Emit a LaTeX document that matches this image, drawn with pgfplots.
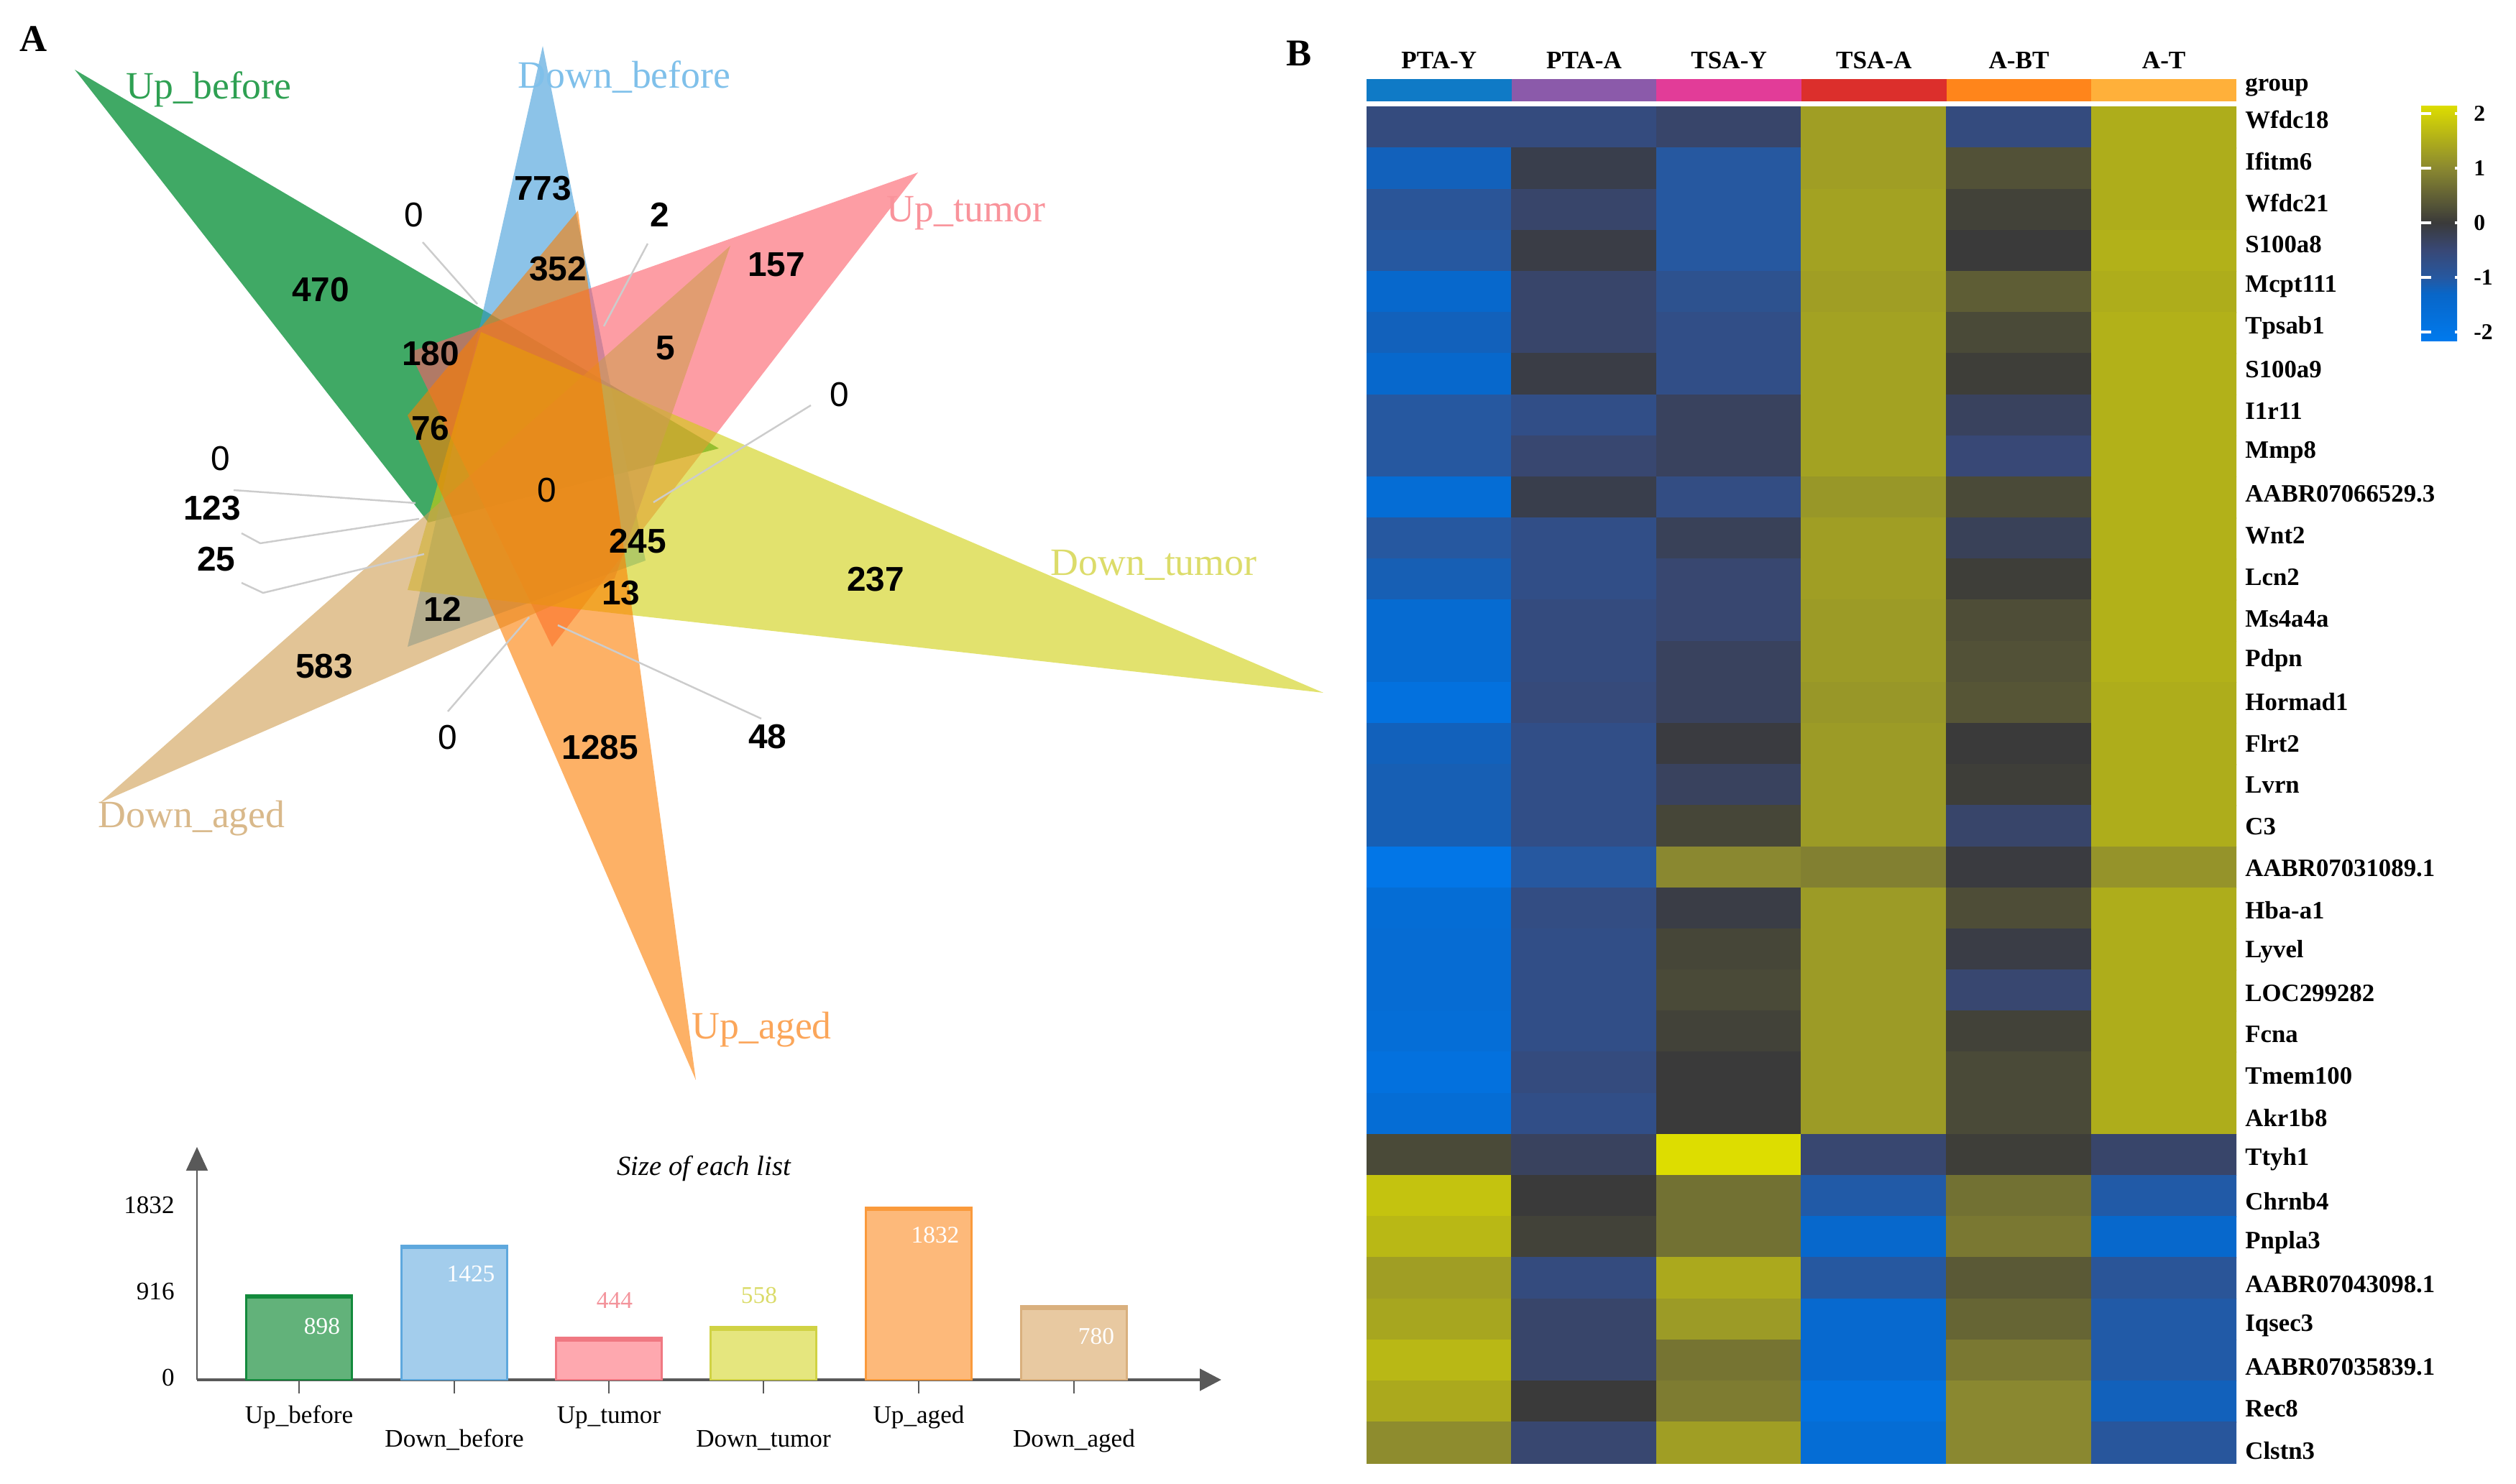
\documentclass[border=0pt]{standalone}
\usepackage{fontspec}
\setmainfont{Liberation Serif}
\newfontfamily\arialf{Liberation Sans}
\usepackage{pgfplots}
\pgfplotsset{compat=1.18}
\usetikzlibrary{arrows.meta}

% venn sets: base colours, drawn translucent
\definecolor{vgreen}{RGB}{0,140,50}
\definecolor{vblue}{RGB}{63,155,217}
\definecolor{vpink}{RGB}{252,92,103}
\definecolor{vyellow}{RGB}{207,207,13}
\definecolor{vtan}{RGB}{207,157,80}
\definecolor{vorange}{RGB}{252,125,0}
% set name colours
\definecolor{tgreen}{RGB}{46,160,82}
\definecolor{tblue}{RGB}{127,192,234}
\definecolor{tpink}{RGB}{249,147,155}
\definecolor{tyellow}{RGB}{220,220,106}
\definecolor{torange}{RGB}{251,166,90}
\definecolor{ttan}{RGB}{217,185,139}
% bars
\definecolor{bgreen}{RGB}{98,178,122}  \definecolor{bgreenD}{RGB}{19,138,60}
\definecolor{bblue}{RGB}{163,205,236}  \definecolor{bblueD}{RGB}{94,168,221}
\definecolor{bpink}{RGB}{254,168,175}  \definecolor{bpinkD}{RGB}{240,120,130}
\definecolor{byell}{RGB}{229,230,126}  \definecolor{byellD}{RGB}{208,210,68}
\definecolor{boran}{RGB}{253,185,122}  \definecolor{boranD}{RGB}{250,154,60}
\definecolor{btan}{RGB}{232,201,161}   \definecolor{btanD}{RGB}{217,176,126}
\definecolor{axgray}{RGB}{89,89,89}
% group bar
\definecolor{gA}{RGB}{15,122,198}
\definecolor{gB}{RGB}{139,90,170}
\definecolor{gC}{RGB}{226,60,152}
\definecolor{gD}{RGB}{220,47,44}
\definecolor{gE}{RGB}{255,133,27}
\definecolor{gF}{RGB}{255,176,58}

\newcommand\vset{\fontsize{15.3}{18}\selectfont}
\newcommand\vnum{\arialf\bfseries\fontsize{13.6}{16}\selectfont}
\newcommand\vzero{\arialf\fontsize{13.6}{16}\selectfont}

\begin{document}
\begin{tikzpicture}
\path[use as bounding box] (0,0) rectangle (35cm,20.65cm);

% ---------- panel A, venn (canvas pixel units)
\begin{axis}[at={(0,0)}, anchor=south west, width=35cm, height=20.65cm,
  scale only axis, xmin=0, xmax=3500, ymin=0, ymax=2065, y dir=reverse,
  hide axis, clip=false]
\addplot[fill=vgreen, fill opacity=0.75, draw=none] coordinates {(104,97) (1000,624) (596,727)} -- cycle;
\addplot[fill=vblue, fill opacity=0.6, draw=none] coordinates {(755,64) (898,780) (567,900)} -- cycle;
\addplot[fill=vpink, fill opacity=0.6, draw=none] coordinates {(1277,240) (570,490) (768,900)} -- cycle;
\addplot[fill=vyellow, fill opacity=0.6, draw=none] coordinates {(1841,964) (669,462) (567,821)} -- cycle;
\addplot[fill=vtan, fill opacity=0.6, draw=none] coordinates {(139,1117) (1016,342) (855,805)} -- cycle;
\addplot[fill=vorange, fill opacity=0.6, draw=none] coordinates {(968,1503) (804,293) (567,578)} -- cycle;

% leader lines
\addplot[draw=gray!40, line width=0.7pt] coordinates {(588,337) (664,423)};
\addplot[draw=gray!40, line width=0.7pt] coordinates {(901,339) (840,454)};
\addplot[draw=gray!40, line width=0.7pt] coordinates {(1128,564) (909,699)};
\addplot[draw=gray!40, line width=0.7pt] coordinates {(325,682) (578,700)};
\addplot[draw=gray!40, line width=0.7pt] coordinates {(336,742) (362,756) (583,722)};
\addplot[draw=gray!40, line width=0.7pt] coordinates {(336,811) (366,825) (590,771)};
\addplot[draw=gray!40, line width=0.7pt] coordinates {(623,990) (736,859)};
\addplot[draw=gray!40, line width=0.7pt] coordinates {(1059,1000) (776,870)};

\node[font=\bfseries\fontsize{15}{18}\selectfont] at (axis cs:47,54) {A};
\node[font=\bfseries\fontsize{15}{18}\selectfont] at (axis cs:1807,74) {B};

\node[anchor=west, text=tgreen, font=\vset, inner sep=0pt] at (axis cs:175,124) {Up\_before};
\node[anchor=west, text=tblue, font=\vset, inner sep=0pt] at (axis cs:720,107) {Down\_before};
\node[anchor=west, text=tpink, font=\vset, inner sep=0pt] at (axis cs:1233,297) {Up\_tumor};
\node[anchor=west, text=tyellow, font=\vset, inner sep=0pt] at (axis cs:1461,786) {Down\_tumor};
\node[anchor=west, text=torange, font=\vset, inner sep=0pt] at (axis cs:962,1433) {Up\_aged};
\node[anchor=west, text=ttan, font=\vset, inner sep=0pt] at (axis cs:136,1139) {Down\_aged};

\node[font=\vnum] at (axis cs:446,403) {470};
\node[font=\vnum] at (axis cs:755,262) {773};
\node[font=\vzero] at (axis cs:576,299) {0};
\node[font=\vnum] at (axis cs:918,299) {2};
\node[font=\vnum] at (axis cs:776,374) {352};
\node[font=\vnum] at (axis cs:1080,368) {157};
\node[font=\vnum] at (axis cs:599,492) {180};
\node[font=\vnum] at (axis cs:926,484) {5};
\node[font=\vnum] at (axis cs:599,596) {76};
\node[font=\vzero] at (axis cs:1168,549) {0};
\node[font=\vzero] at (axis cs:761,682) {0};
\node[font=\vzero] at (axis cs:307,638) {0};
\node[font=\vnum] at (axis cs:295,707) {123};
\node[font=\vnum] at (axis cs:301,778) {25};
\node[font=\vnum] at (axis cs:887,753) {245};
\node[font=\vnum] at (axis cs:864,825) {13};
\node[font=\vnum] at (axis cs:1218,806) {237};
\node[font=\vnum] at (axis cs:616,848) {12};
\node[font=\vnum] at (axis cs:451,927) {583};
\node[font=\vzero] at (axis cs:623,1026) {0};
\node[font=\vnum] at (axis cs:835,1040) {1285};
\node[font=\vnum] at (axis cs:1068,1025) {48};
\end{axis}

% ---------- panel A, size of each list
\begin{axis}[at={(2.74cm,1.45cm)}, anchor=south west, width=14.25cm, height=3.24cm,
  scale only axis, xmin=274, xmax=1699, ymin=0, ymax=2473, clip=false,
  axis lines=left,
  x axis line style={draw=axgray, line width=1.4pt, -{Triangle[length=0.3cm,width=0.3cm]}},
  y axis line style={draw=axgray, line width=0.6pt, -{Triangle[length=0.33cm,width=0.3cm]}},
  tick align=outside, major tick length=0.19cm,
  xtick={416,847,1278}, xticklabels={Up\_before,Up\_tumor,Up\_aged},
  extra x ticks={632,1062,1494}, extra x tick labels={Down\_before,Down\_tumor,Down\_aged},
  extra x tick style={xticklabel style={yshift=-0.33cm}},
  xtick style={draw=axgray, line width=0.5pt},
  ytick={0,916,1832}, yticklabels={0,916,1832}, ytick style={draw=none},
  ticklabel style={font=\fontsize{10}{12}\selectfont},
  typeset ticklabels with strut]
\addplot[ybar, bar width=147, bar shift=0pt, fill=bgreen, draw=bgreenD, line width=0.8pt] coordinates {(416,898)};
\addplot[ybar, bar width=147, bar shift=0pt, fill=bblue, draw=bblueD, line width=0.8pt] coordinates {(632,1425)};
\addplot[ybar, bar width=147, bar shift=0pt, fill=bpink, draw=bpinkD, line width=0.8pt] coordinates {(847,444)};
\addplot[ybar, bar width=147, bar shift=0pt, fill=byell, draw=byellD, line width=0.8pt] coordinates {(1062,558)};
\addplot[ybar, bar width=147, bar shift=0pt, fill=boran, draw=boranD, line width=0.8pt] coordinates {(1278,1832)};
\addplot[ybar, bar width=147, bar shift=0pt, fill=btan, draw=btanD, line width=0.8pt] coordinates {(1494,780)};
\addplot[draw=bgreenD, line width=1.6pt] coordinates {(342.5,880) (489.5,880)};
\addplot[draw=bblueD, line width=1.6pt] coordinates {(558.5,1407) (705.5,1407)};
\addplot[draw=bpinkD, line width=1.6pt] coordinates {(773.5,426) (920.5,426)};
\addplot[draw=byellD, line width=1.6pt] coordinates {(988.5,540) (1135.5,540)};
\addplot[draw=boranD, line width=1.6pt] coordinates {(1204.5,1814) (1351.5,1814)};
\addplot[draw=btanD, line width=1.6pt] coordinates {(1420.5,762) (1567.5,762)};
\node[font=\itshape\fontsize{11}{13}\selectfont] at (axis cs:979,2244) {Size of each list};
\node[text=white, font=\fontsize{9.5}{11}\selectfont] at (axis cs:448,565) {898};
\node[text=white, font=\fontsize{9.5}{11}\selectfont] at (axis cs:655,1122) {1425};
\node[text=bpinkD!80, font=\fontsize{9.5}{11}\selectfont] at (axis cs:855,840) {444};
\node[text=byellD!80, font=\fontsize{9.5}{11}\selectfont] at (axis cs:1056,893) {558};
\node[text=white, font=\fontsize{9.5}{11}\selectfont] at (axis cs:1301,1534) {1832};
\node[text=white, font=\fontsize{9.5}{11}\selectfont] at (axis cs:1525,458) {780};
\end{axis}

% ---------- panel B, heatmap
\begin{axis}[at={(19.01cm,0.29cm)}, anchor=south west, width=12.10cm, height=19.26cm,
  scale only axis, xmin=-0.5, xmax=5.5, ymin=-1.182, ymax=32.5, y dir=reverse,
  enlargelimits=false, axis line style={draw=none}, major tick length=0pt,
  xtick={0,...,5}, xticklabels={PTA-Y,PTA-A,TSA-Y,TSA-A,A-BT,A-T}, xticklabel pos=upper,
  xticklabel style={font=\bfseries\fontsize{10}{12}\selectfont, yshift=0.02cm},
  % labels sit on a slightly wider pitch than the rows, as in the source figure
  ytick={-0.185,0.827,1.838,2.850,3.862,4.874,5.885,6.897,7.909,8.920,9.932,10.944,
    11.955,12.967,13.979,14.991,16.002,17.014,18.026,19.037,20.049,21.061,22.072,
    23.084,24.096,25.108,26.119,27.131,28.143,29.154,30.166,31.178,32.189},
  yticklabels={Wfdc18,Ifitm6,Wfdc21,S100a8,Mcpt111,Tpsab1,S100a9,I1r11,Mmp8,AABR07066529.3,
    Wnt2,Lcn2,Ms4a4a,Pdpn,Hormad1,Flrt2,Lvrn,C3,AABR07031089.1,Hba-a1,Lyvel,LOC299282,
    Fcna,Tmem100,Akr1b8,Ttyh1,Chrnb4,Pnpla3,AABR07043098.1,Iqsec3,AABR07035839.1,Rec8,Clstn3},
  extra y ticks={-0.99}, extra y tick labels={group},
  yticklabel pos=upper,
  yticklabel style={font=\bfseries\fontsize{9.9}{11}\selectfont},
  colormap={hm}{rgb255(0pt)=(0,122,238); rgb255(87pt)=(8,102,200); rgb255(117pt)=(38,88,160);
    rgb255(167pt)=(56,72,118); rgb255(217pt)=(58,58,58); rgb255(317pt)=(138,136,48);
    rgb255(433pt)=(222,222,0)},
  point meta min=-2.17, point meta max=2.16,
  colorbar,
  colorbar style={at={(parent axis.north east)}, anchor=north west,
    xshift=2.27cm, yshift=-0.36cm, width=0.61cm, height=3.29cm,
    ytick={-2,-1,0,1,2}, yticklabels={-2,-1,0,1,2},
    yticklabel style={font=\bfseries\fontsize{9}{11}\selectfont},
    axis line style={draw=none}, tick align=inside, ytick pos=both,
    major tick length=0.14cm, ytick style={draw=white, line width=1.2pt}}]
\addplot[fill=gA, draw=none] coordinates {(-0.5,-1.182) (0.5,-1.182) (0.5,-0.64) (-0.5,-0.64)} -- cycle;
\addplot[fill=gB, draw=none] coordinates {(0.5,-1.182) (1.5,-1.182) (1.5,-0.64) (0.5,-0.64)} -- cycle;
\addplot[fill=gC, draw=none] coordinates {(1.5,-1.182) (2.5,-1.182) (2.5,-0.64) (1.5,-0.64)} -- cycle;
\addplot[fill=gD, draw=none] coordinates {(2.5,-1.182) (3.5,-1.182) (3.5,-0.64) (2.5,-0.64)} -- cycle;
\addplot[fill=gE, draw=none] coordinates {(3.5,-1.182) (4.5,-1.182) (4.5,-0.64) (3.5,-0.64)} -- cycle;
\addplot[fill=gF, draw=none] coordinates {(4.5,-1.182) (5.5,-1.182) (5.5,-0.64) (4.5,-0.64)} -- cycle;
\addplot[matrix plot, mesh/cols=6, point meta=explicit] table[meta=v, row sep=\\] {
x y v\\
0 0 -0.6\\ 1 0 -0.6\\ 2 0 -0.4\\ 3 0 1.3\\ 4 0 -0.6\\ 5 0 1.5\\
0 1 -1.2\\ 1 1 -0.15\\ 2 1 -1.0\\ 3 1 1.3\\ 4 1 0.3\\ 5 1 1.5\\
0 2 -0.9\\ 1 2 -0.4\\ 2 2 -1.0\\ 3 2 1.35\\ 4 2 0.1\\ 5 2 1.5\\
0 3 -1.0\\ 1 3 -0.1\\ 2 3 -1.0\\ 3 3 1.35\\ 4 3 0.0\\ 5 3 1.55\\
0 4 -1.4\\ 1 4 -0.4\\ 2 4 -0.8\\ 3 4 1.3\\ 4 4 0.45\\ 5 4 1.5\\
0 5 -1.2\\ 1 5 -0.4\\ 2 5 -0.7\\ 3 5 1.35\\ 4 5 0.2\\ 5 5 1.55\\
0 6 -1.4\\ 1 6 -0.1\\ 2 6 -0.7\\ 3 6 1.35\\ 4 6 0.05\\ 5 6 1.55\\
0 7 -1.0\\ 1 7 -0.7\\ 2 7 -0.3\\ 3 7 1.35\\ 4 7 -0.3\\ 5 7 1.55\\
0 8 -1.0\\ 1 8 -0.45\\ 2 8 -0.3\\ 3 8 1.35\\ 4 8 -0.5\\ 5 8 1.55\\
0 9 -1.6\\ 1 9 -0.15\\ 2 9 -0.65\\ 3 9 1.2\\ 4 9 0.2\\ 5 9 1.55\\
0 10 -1.0\\ 1 10 -0.7\\ 2 10 -0.25\\ 3 10 1.3\\ 4 10 -0.25\\ 5 10 1.55\\
0 11 -1.15\\ 1 11 -0.7\\ 2 11 -0.45\\ 3 11 1.3\\ 4 11 0.05\\ 5 11 1.55\\
0 12 -1.5\\ 1 12 -0.6\\ 2 12 -0.45\\ 3 12 1.25\\ 4 12 0.25\\ 5 12 1.55\\
0 13 -1.5\\ 1 13 -0.6\\ 2 13 -0.3\\ 3 13 1.25\\ 4 13 0.3\\ 5 13 1.55\\
0 14 -1.8\\ 1 14 -0.55\\ 2 14 -0.3\\ 3 14 1.2\\ 4 14 0.35\\ 5 14 1.5\\
0 15 -1.2\\ 1 15 -0.7\\ 2 15 -0.05\\ 3 15 1.25\\ 4 15 0.0\\ 5 15 1.5\\
0 16 -1.15\\ 1 16 -0.7\\ 2 16 -0.3\\ 3 16 1.25\\ 4 16 0.05\\ 5 16 1.5\\
0 17 -1.15\\ 1 17 -0.7\\ 2 17 0.15\\ 3 17 1.25\\ 4 17 -0.4\\ 5 17 1.5\\
0 18 -2.0\\ 1 18 -1.0\\ 2 18 1.0\\ 3 18 0.9\\ 4 18 -0.05\\ 5 18 1.15\\
0 19 -1.6\\ 1 19 -0.65\\ 2 19 -0.1\\ 3 19 1.25\\ 4 19 0.25\\ 5 19 1.5\\
0 20 -1.55\\ 1 20 -0.7\\ 2 20 0.15\\ 3 20 1.25\\ 4 20 -0.1\\ 5 20 1.5\\
0 21 -1.55\\ 1 21 -0.7\\ 2 21 0.2\\ 3 21 1.25\\ 4 21 -0.45\\ 5 21 1.5\\
0 22 -1.65\\ 1 22 -0.7\\ 2 22 0.1\\ 3 22 1.25\\ 4 22 0.1\\ 5 22 1.5\\
0 23 -1.8\\ 1 23 -0.6\\ 2 23 0.0\\ 3 23 1.25\\ 4 23 0.2\\ 5 23 1.5\\
0 24 -1.6\\ 1 24 -0.7\\ 2 24 0.0\\ 3 24 1.25\\ 4 24 0.2\\ 5 24 1.5\\
0 25 0.2\\ 1 25 -0.3\\ 2 25 2.15\\ 3 25 -0.45\\ 4 25 0.05\\ 5 25 -0.4\\
0 26 1.8\\ 1 26 0.0\\ 2 26 0.7\\ 3 26 -1.05\\ 4 26 0.7\\ 5 26 -1.05\\
0 27 1.65\\ 1 27 0.1\\ 2 27 0.7\\ 3 27 -1.4\\ 4 27 0.8\\ 5 27 -1.4\\
0 28 1.3\\ 1 28 -0.6\\ 2 28 1.45\\ 3 28 -1.0\\ 4 28 0.4\\ 5 28 -0.9\\
0 29 1.4\\ 1 29 -0.4\\ 2 29 1.25\\ 3 29 -1.45\\ 4 29 0.55\\ 5 29 -1.05\\
0 30 1.65\\ 1 30 -0.4\\ 2 30 0.75\\ 3 30 -1.45\\ 4 30 0.8\\ 5 30 -1.05\\
0 31 1.45\\ 1 31 0.0\\ 2 31 0.85\\ 3 31 -1.8\\ 4 31 1.0\\ 5 31 -1.2\\
0 32 1.05\\ 1 32 -0.45\\ 2 32 1.3\\ 3 32 -1.6\\ 4 32 1.0\\ 5 32 -0.95\\
};
\end{axis}
\end{tikzpicture}
\end{document}
